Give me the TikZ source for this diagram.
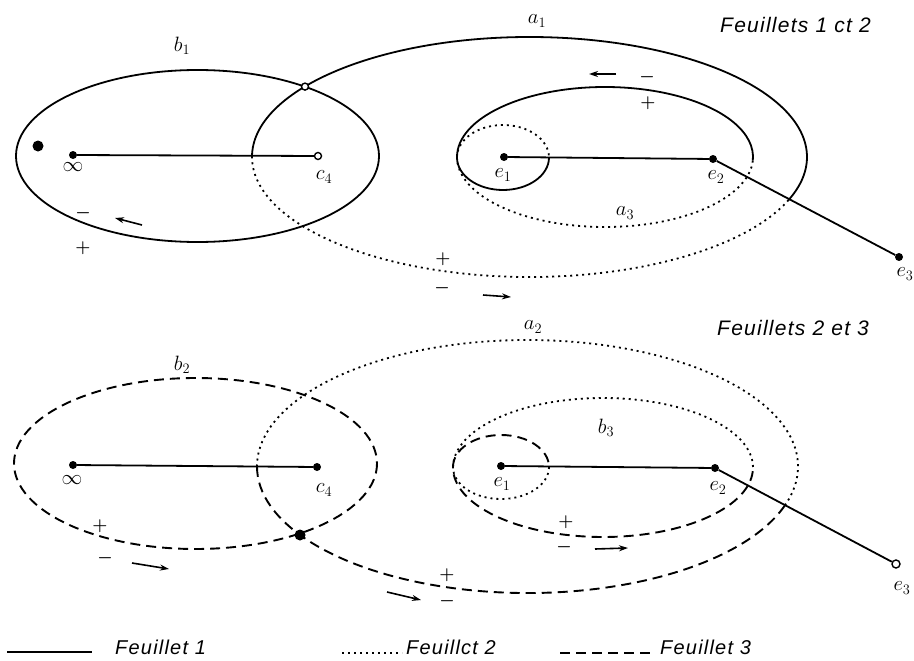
\documentclass[tikz,border=0pt]{standalone}
\usepackage{fontspec}
\newfontfamily\feuil[LetterSpace=6]{Liberation Sans}
\usetikzlibrary{arrows.meta}
\begin{document}
\begin{tikzpicture}[x=1pt,y=-1pt,
  sol/.style={line width=1.8pt},
  dottwo/.style={line width=1.8pt, dash pattern=on 2pt off 4pt},
  dashthree/.style={line width=1.9pt, dash pattern=on 10pt off 6pt},
  pt/.style={circle, fill, inner sep=0pt, minimum size=8pt},
  ring/.style={circle, draw, fill=white, line width=1.4pt, inner sep=0pt, minimum size=7pt},
  lab/.style={inner sep=0pt, font=\fontsize{21}{24}\selectfont},
  sgn/.style={inner sep=0pt, font=\fontsize{16}{18}\selectfont\boldmath},
  arr/.style={line width=1.6pt, -{Stealth[length=9pt,width=6pt]}},
  ftxt/.style={inner sep=0pt, anchor=base west, font=\feuil\itshape\fontsize{21}{24}\selectfont},
  ltxt/.style={inner sep=0pt, anchor=base west, font=\feuil\itshape\fontsize{20}{22}\selectfont}]
\useasboundingbox (0,0) rectangle (914,661);
\fill[white] (0,0) rectangle (914,661);

% ================= TOP : Feuillets 1 et 2 =================
% b1
\draw[sol] (197.5,156) ellipse[x radius=181.5, y radius=86];
% a1
\draw[sol] (529.5,157) ++(180:277.5 and 120) arc[start angle=180, end angle=381, x radius=277.5, y radius=120];
\draw[dottwo] (529.5,157) ++(21:277.5 and 120) arc[start angle=21, end angle=180, x radius=277.5, y radius=120];
% a3 (egg around e1 e2)
\draw[sol] (605,157) ++(180:148 and 70) arc[start angle=180, end angle=363, x radius=148, y radius=70];
\draw[dottwo] (605,157) ++(3:148 and 70) arc[start angle=3, end angle=180, x radius=148, y radius=70];
% small loop round e1
\draw[sol] (503,157.5) ++(0:46 and 32.5) arc[start angle=0, end angle=180, x radius=46, y radius=32.5];
\draw[dottwo] (503,157.5) ++(180:46 and 32.5) arc[start angle=180, end angle=360, x radius=46, y radius=32.5];

% cuts and points
\node[pt] (inf1) at (73,155) {};
\node[ring] (c41) at (318,156) {};
\node[pt] (e11) at (504,157) {};
\node[pt] (e21) at (713,159) {};
\node[pt] (e31) at (899,257) {};
\draw[sol] (inf1) -- (c41);
\draw[sol] (e11) -- (e21) -- (e31);
\node[circle, fill, inner sep=0pt, minimum size=11pt] (bigdot) at (38,146) {};
\node[ring] (j1) at (305,86.6) {};

% labels
\node[lab] (lb1) at (182,46) {$b_1$};
\node[lab] (la1) at (537,21) {$a_1$};
\node[lab] (la3) at (625,213) {$a_3$};
\node[lab] (linf1) at (73,167) {$\infty$};
\node[lab] (lc41) at (324,177) {$c_4$};
\node[lab] (le11) at (503,175) {$e_1$};
\node[lab] (le21) at (716,177) {$e_2$};
\node[lab] (le31) at (905,274) {$e_3$};
\node[ftxt] (t1) at (720,33) {Feuillets 1 ct 2};

% signs and arrows
\node[sgn] at (83,213) {$-$};
\node[sgn] at (83,248) {$+$};
\draw[arr] (142,225) -- (115,218);
\node[sgn] at (443,259) {$+$};
\node[sgn] at (442,288) {$-$};
\draw[arr] (483,295) -- (511,297);
\node[sgn] at (647,77) {$-$};
\node[sgn] at (648,103) {$+$};
\draw[arr] (616,74) -- (589,74);

% ================= BOTTOM : Feuillets 2 et 3 =================
% b2
\draw[dashthree] (195.5,463.5) ellipse[x radius=181.5, y radius=85.5];
% a2
\draw[dottwo] (527.5,466.5) ++(180:270.5 and 126.5) arc[start angle=180, end angle=378, x radius=270.5, y radius=126.5];
\draw[dashthree] (527.5,466.5) ++(18:270.5 and 126.5) arc[start angle=18, end angle=180, x radius=270.5, y radius=126.5];
% b3
\draw[dottwo] (603,467.5) ++(180:150 and 69.5) arc[start angle=180, end angle=360, x radius=150, y radius=69.5];
\draw[dashthree] (603,467.5) ++(3:150 and 69.5) arc[start angle=3, end angle=180, x radius=150, y radius=69.5];
% small loop round e1
\draw[dashthree] (501,467) ++(180:48 and 32) arc[start angle=180, end angle=360, x radius=48, y radius=32];
\draw[dottwo] (501,467) ++(0:48 and 32) arc[start angle=0, end angle=180, x radius=48, y radius=32];

\node[pt] (inf2) at (73,465) {};
\node[pt] (c42) at (317,467) {};
\node[pt] (e12) at (501,466) {};
\node[pt] (e22) at (715,468) {};
\node[ring, minimum size=8pt] (e32) at (896,564) {};
\draw[sol] (inf2) -- (c42);
\draw[sol] (e12) -- (e22) -- (e32);
\node[circle, fill, inner sep=0pt, minimum size=11pt] (j2) at (300,535) {};

\node[lab] (lb2) at (182,365) {$b_2$};
\node[lab] (la2) at (533,327) {$a_2$};
\node[lab] (lb3) at (606,428) {$b_3$};
\node[lab] (linf2) at (72,480) {$\infty$};
\node[lab] (lc42) at (324,490) {$c_4$};
\node[lab] (le12) at (502,484) {$e_1$};
\node[lab] (le22) at (718,488) {$e_2$};
\node[lab] (le32) at (902,588) {$e_3$};
\node[ftxt] (t2) at (717,335) {Feuillets 2 et 3};

\node[sgn] at (100,526) {$+$};
\node[sgn] at (105,558) {$-$};
\draw[arr] (132,563) -- (169,569);
\node[sgn] at (447,575) {$+$};
\node[sgn] at (447,601) {$-$};
\draw[arr] (387,592) -- (421,600);
\node[sgn] at (566,522) {$+$};
\node[sgn] at (564,547) {$-$};
\draw[arr] (595,549) -- (628,548);

% ================= LEGEND =================
\draw[sol] (7,652) -- (92,652);
\node[ltxt] (f1) at (115,654) {Feuillet 1};
\draw[dottwo] (342,653) -- (402,653);
\node[ltxt] (f2) at (406,654) {Feuillct 2};
\draw[dashthree] (560,653) -- (656,653);
\node[ltxt] (f3) at (660,654) {Feuillet 3};
\end{tikzpicture}
\end{document}
